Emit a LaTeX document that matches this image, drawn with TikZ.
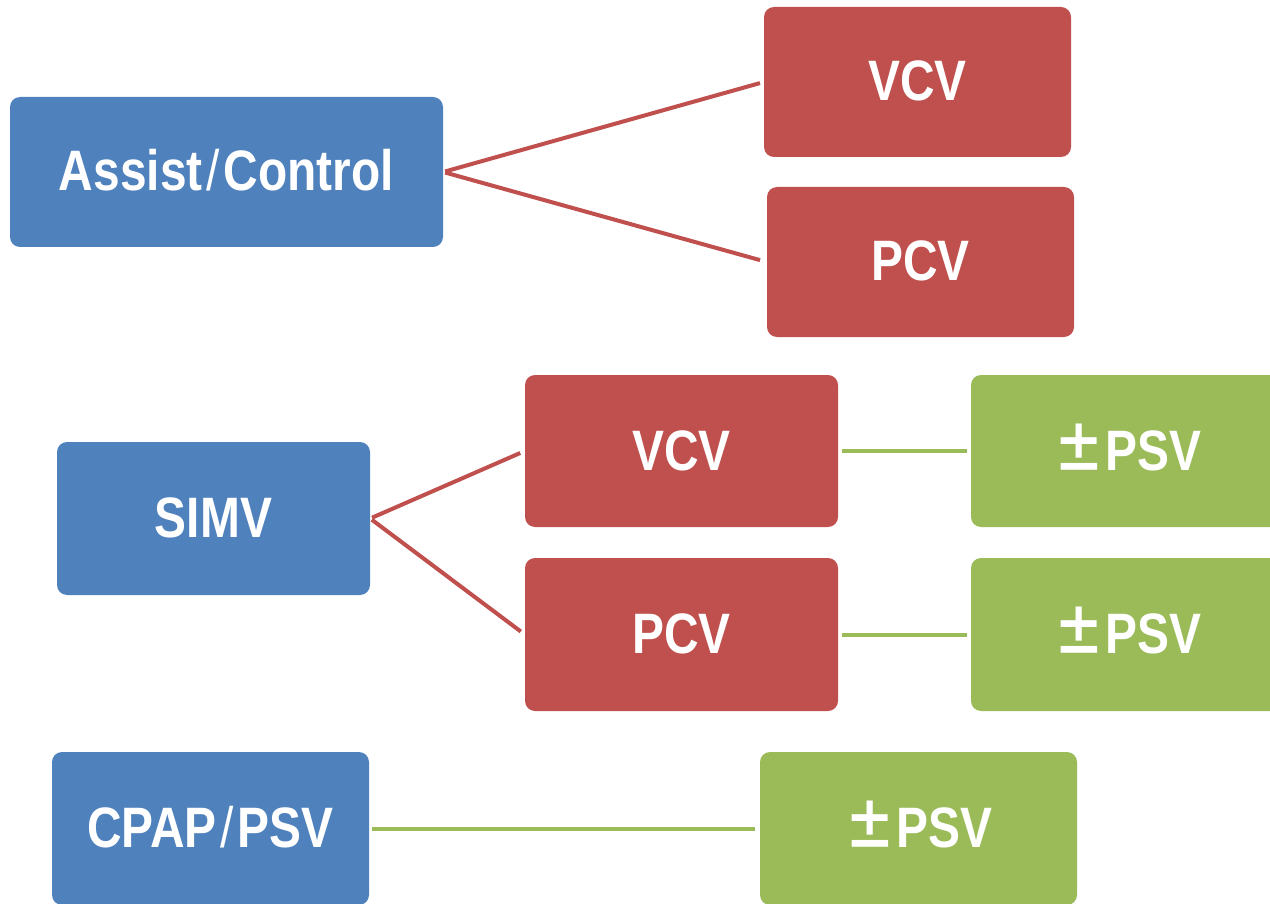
\documentclass[tikz,border=0pt]{standalone}
\usepackage{fontspec}
\newfontfamily\lab[FakeStretch=0.84]{Liberation Sans}
\newfontfamily\cjk[FakeStretch=0.9]{Noto Sans CJK JP}
\definecolor{cblue}{HTML}{4F81BD}
\definecolor{cred}{HTML}{C0504D}
\definecolor{cgreen}{HTML}{9BBB59}
\newcommand{\fws}{\kern4pt{\mdseries/}\kern4pt}
\newcommand{\fwpm}{{\cjk\bfseries ±}}
\tikzset{
  box/.style={rectangle, rounded corners=10pt, inner sep=0pt, text=white,
    text height=41pt, text depth=3pt,
    font=\lab\bfseries\fontsize{57}{57}\selectfont},
  bluebox/.style={box, fill=cblue},
  redbox/.style={box, fill=cred},
  greenbox/.style={box, fill=cgreen},
  redline/.style={draw=cred, line width=4pt},
  greenline/.style={draw=cgreen, line width=4pt},
}
\begin{document}
\begin{tikzpicture}[x=1pt,y=-1pt]
\useasboundingbox (0,0) rectangle (1270,904);
\clip (0,0) rectangle (1270,904);
\node[bluebox, minimum width=433pt, minimum height=150pt] (ac) at (226.5,172) {Assist\fws Control};
\node[redbox, minimum width=307pt, minimum height=150pt] (vcv1) at (917.5,82) {VCV};
\node[redbox, minimum width=307pt, minimum height=150pt] (pcv1) at (920.5,262) {PCV};
\node[bluebox, minimum width=313pt, minimum height=153pt] (simv) at (213.5,518.5) {SIMV};
\node[redbox, minimum width=313pt, minimum height=152pt] (vcv2) at (681.5,451) {VCV};
\node[redbox, minimum width=313pt, minimum height=153pt] (pcv2) at (681.5,634.5) {PCV};
\node[greenbox, minimum width=313pt, minimum height=152pt] (psv1) at (1127.5,451) {\fwpm PSV};
\node[greenbox, minimum width=313pt, minimum height=153pt] (psv2) at (1127.5,634.5) {\fwpm PSV};
\node[bluebox, minimum width=317pt, minimum height=153pt] (cpap) at (210.5,828.5) {CPAP\fws PSV};
\node[greenbox, minimum width=317pt, minimum height=153pt] (psv3) at (918.5,828.5) {\fwpm PSV};
\draw[redline, shorten <=2pt, shorten >=4pt] (ac.east) -- (vcv1.west);
\draw[redline, shorten <=2pt, shorten >=7pt] (ac.east) -- (pcv1.west);
\draw[redline, shorten <=2pt, shorten >=5pt] (simv.east) -- (vcv2.west);
\draw[redline, shorten <=2pt, shorten >=5pt] (simv.east) -- (pcv2.west);
\draw[greenline, shorten <=4pt, shorten >=4pt] (vcv2.east) -- (psv1.west);
\draw[greenline, shorten <=4pt, shorten >=4pt] (pcv2.east) -- (psv2.west);
\draw[greenline, shorten <=3pt, shorten >=5pt] (cpap.east) -- (psv3.west);
\end{tikzpicture}
\end{document}
